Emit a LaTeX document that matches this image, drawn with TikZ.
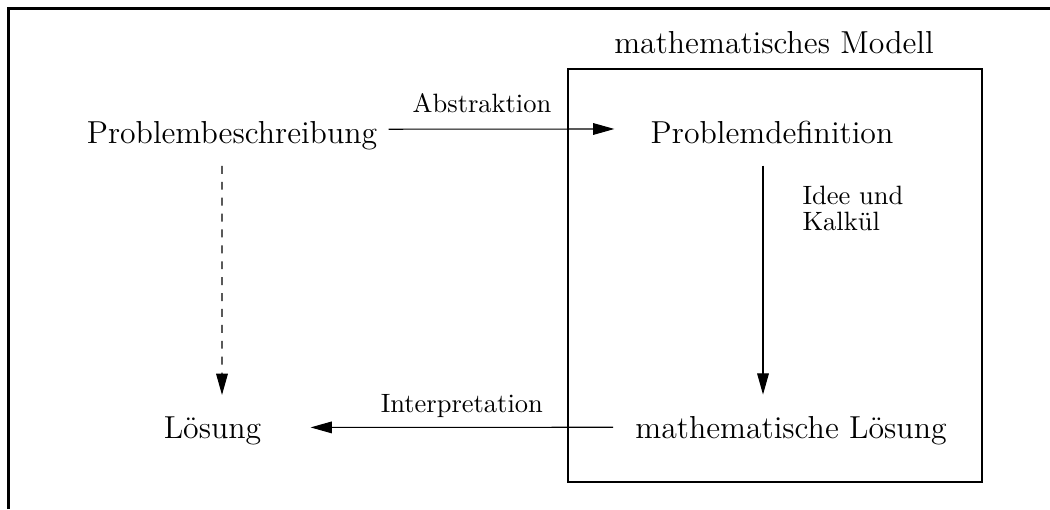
\documentclass[tikz,border=0pt]{standalone}
\usepackage{tikz}
\usetikzlibrary{arrows.meta,calc}

\begin{document}
\begin{tikzpicture}[
      x=0.3774pt, y=-0.3774pt,
      txt/.style={font=\large},
      lbl/.style={font=\normalsize},
      arrow/.style={-{Triangle[length=8pt,width=4.4pt]}},
      frame/.style={line width=1.2pt}
    ]
      \useasboundingbox (0,0) rectangle (1050,509);
      \draw[frame] (8.5,509) -- (8.5,8.5) -- (1050,8.5);
      % the model box
      \draw (568,69) rectangle (982,482);
      \node[txt, anchor=base] (modell) at (774,53) {mathematisches Modell};
      % the four terms
      \node[txt, anchor=base] (pb)  at (232,143)   {Problembeschreibung};
      \node[txt, anchor=base] (pd)  at (772,143)   {Problemdefinition};
      \node[txt, anchor=base] (loe) at (212.5,438) {Lösung};
      \node[txt, anchor=base] (ml)  at (791,438)   {mathematische Lösung};
      \draw[arrow] ($(pb.east)+(2,-6)$) -- ($(pd.west)+(-27,-3)$)
            node[lbl, pos=0.414, above=2.6pt] {Abstraktion};
      \draw[arrow] ($(pd.south)+(-9,13)$) -- ($(ml.north)+(-28,-12)$);
      \node[lbl, align=left, anchor=north west, inner sep=0pt,
            font=\fontsize{10}{9.5}\selectfont] (idee) at (802,186)
            {Idee und\\Kalkül};
      \draw[arrow] ($(ml.west)+(-13,-3)$) -- ($(loe.east)+(40,-3)$)
            node[lbl, midway, above] {Interpretation};
      \draw[arrow, dashed] ($(pb.south)+(-10,7)$) -- ($(loe.north)+(9.5,-12)$);
    \end{tikzpicture}
\end{document}
